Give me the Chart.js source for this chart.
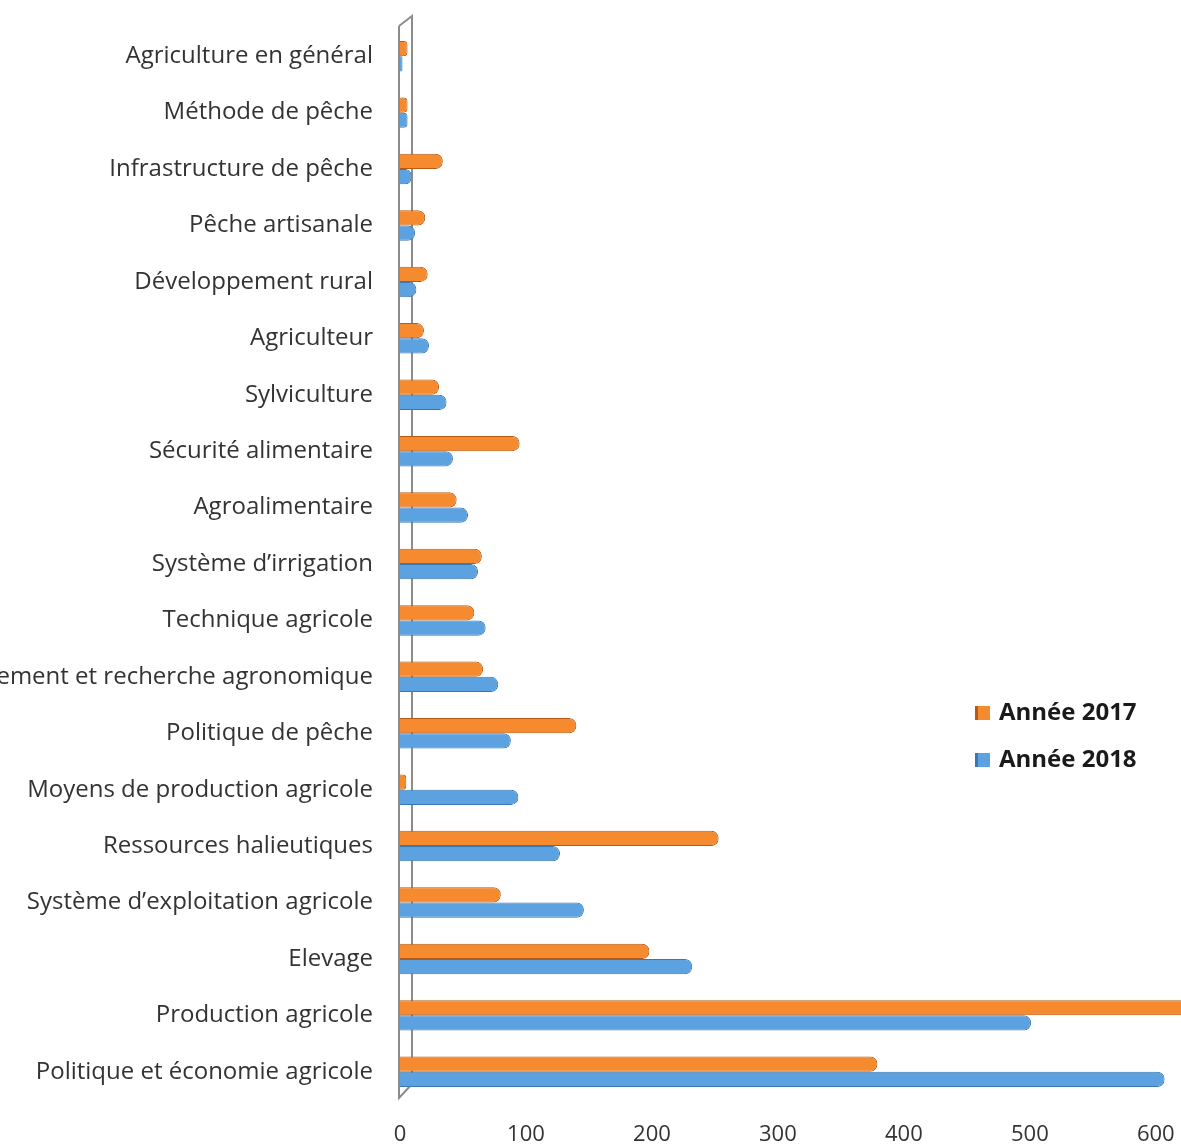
<!DOCTYPE html>
<html>
<head>
<meta charset="utf-8">
<script src="https://cdn.jsdelivr.net/npm/chart.js@4.4.0/dist/chart.umd.min.js"></script>
<style>
  html, body { margin: 0; padding: 0; background: #fff; }
  #wrap { position: relative; width: 1181px; height: 1146px; }
  #legend { position: absolute; left: 975px; top: 694px; font-family: "Open Sans", sans-serif; font-weight: bold; font-size: 24px; color: #1a1a1a; }
  #legend div { height: 47px; display: flex; align-items: flex-start; }
  #legend span.box { display: inline-block; width: 15px; height: 14px; margin: 12px 9px 0 0; box-sizing: border-box; }
</style>
</head>
<body>
<div id="wrap">
  <canvas id="chartTheme" width="1181" height="1146"></canvas>
  <div id="legend"></div>
</div>
<script>
const categories = [
    "Agriculture en général",
    "Méthode de pêche",
    "Infrastructure de pêche",
    "Pêche artisanale",
    "Développement rural",
    "Agriculteur",
    "Sylviculture",
    "Sécurité alimentaire",
    "Agroalimentaire",
    "Système d’irrigation",
    "Technique agricole",
    "Enseignement et recherche agronomique",
    "Politique de pêche",
    "Moyens de production agricole",
    "Ressources halieutiques",
    "Système d’exploitation agricole",
    "Elevage",
    "Production agricole",
    "Politique et économie agricole"
];
const values2017 = [6, 6, 34, 20, 22, 19, 31, 95, 45, 65, 59, 66, 140, 5, 253, 80, 198, 650, 379];
const values2018 = [2, 6, 9, 12, 13, 23, 37, 42, 54, 62, 68, 78, 88, 94, 127, 146, 232, 501, 607];
const seriesNames = ["Année 2017", "Année 2018"];
const xTicks = [0, 100, 200, 300, 400, 500, 600];

const fillColors = ['#F58A2E', '#5DA2E0'];
const edgeColors = ['#B95A14', '#3A78B4'];

// fake 3D wall on the left like the spreadsheet original
const wallPlugin = {
    id: 'wall',
    beforeDatasetsDraw(chart) {
        const a = chart.chartArea;
        const c = chart.ctx;
        const L = a.left - 1, T = a.top, B = a.bottom;
        c.save();
        c.strokeStyle = '#8c8c8c';
        c.lineWidth = 2;
        c.beginPath();
        c.moveTo(L, T - 2);
        c.lineTo(L, B - 2);
        c.lineTo(L + 13, B - 16);
        c.lineTo(L + 13, T - 12);
        c.lineTo(L, T - 2);
        c.stroke();
        c.restore();
    }
};

const ctx = document.getElementById("chartTheme").getContext("2d");

new Chart(ctx, {
    type: 'bar',
    data: {
        labels: categories,
        datasets: [
            {
                label: seriesNames[0],
                data: values2017,
                backgroundColor: fillColors[0],
                borderColor: edgeColors[0],
                borderWidth: 1,
                borderRadius: { topRight: 7, bottomRight: 7 },
                borderSkipped: 'start'
            },
            {
                label: seriesNames[1],
                data: values2018,
                backgroundColor: fillColors[1],
                borderColor: edgeColors[1],
                borderWidth: 1,
                borderRadius: { topRight: 7, bottomRight: 7 },
                borderSkipped: 'start'
            }
        ]
    },
    options: {
        indexAxis: 'y',
        responsive: false,
        animation: false,
        categoryPercentage: 0.54,
        barPercentage: 1.0,
        layout: { padding: { top: 28, left: 0, right: 0, bottom: 0 } },
        plugins: {
            legend: { display: false },
            title: { display: false },
            tooltip: { enabled: false }
        },
        scales: {
            x: {
                min: 0,
                max: 620,
                grid: { display: false, drawTicks: false },
                border: { display: false },
                afterBuildTicks: function (axis) {
                    axis.ticks = xTicks.map(v => ({ value: v }));
                },
                afterFit: function (axis) {
                    axis.height = 46;
                    axis.paddingLeft = 0;
                    axis.paddingRight = 0;
                },
                ticks: {
                    padding: 22,
                    color: '#333333',
                    font: { family: 'Open Sans', size: 22 }
                }
            },
            y: {
                grid: { display: false, drawTicks: false },
                border: { display: false },
                afterFit: function (axis) {
                    axis.width = 400;
                    axis.paddingTop = 0;
                    axis.paddingBottom = 0;
                },
                ticks: {
                    padding: 27,
                    autoSkip: false,
                    color: '#333333',
                    font: { family: 'Open Sans', size: 24 }
                }
            }
        }
    },
    plugins: [wallPlugin]
});

// legend
const legend = document.getElementById('legend');
seriesNames.forEach(function (name, i) {
    const row = document.createElement('div');
    const box = document.createElement('span');
    box.className = 'box';
    box.style.background = fillColors[i];
    box.style.borderLeft = '3px solid ' + edgeColors[i];
    row.appendChild(box);
    row.appendChild(document.createTextNode(name));
    legend.appendChild(row);
});
</script>
</body>
</html>
